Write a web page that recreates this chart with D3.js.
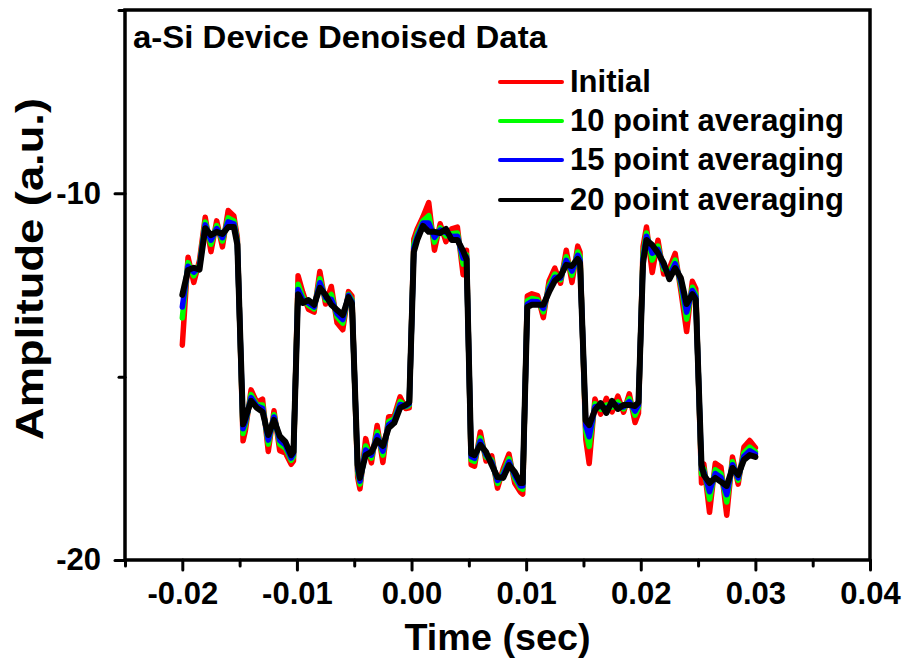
<!DOCTYPE html>
<html><head><meta charset="utf-8">
<script src="https://cdn.jsdelivr.net/npm/d3@7"></script>
<style>body{margin:0;background:#fff}svg{display:block}</style>
</head><body><svg id="c" width="908" height="667"></svg>
<script>
const time = [
-0.0200,-0.0195,-0.0190,-0.0185,-0.0180,-0.0175,-0.0170,-0.0165,-0.0160,-0.0155,
-0.0152,-0.0147,
-0.0145,-0.0140,-0.0135,-0.0130,-0.0125,-0.0120,-0.0115,-0.0110,-0.0105,
-0.0103,-0.0099,
-0.0095,-0.0090,-0.0085,-0.0080,-0.0075,-0.0070,-0.0065,-0.0060,-0.0055,
-0.0052,-0.0047,
-0.0045,-0.0040,-0.0035,-0.0030,-0.0025,-0.0020,-0.0015,-0.0010,-0.0005,
-0.0002,0.0002,
0.0005,0.0010,0.0015,0.0020,0.0025,0.0030,0.0035,0.0040,0.0045,
0.0048,0.0052,
0.0055,0.0060,0.0065,0.0070,0.0075,0.0080,0.0085,0.0090,0.0095,
0.0097,0.0101,
0.0105,0.0110,0.0115,0.0120,0.0125,0.0130,0.0135,0.0140,0.0145,
0.0147,0.0152,
0.0155,0.0160,0.0165,0.0170,0.0175,0.0180,0.0185,0.0190,0.0195,
0.0198,0.0202,
0.0205,0.0210,0.0215,0.0220,0.0225,0.0230,0.0235,0.0240,0.0245,
0.0248,0.0253,
0.0255,0.0260,0.0265,0.0270,0.0275,0.0280,0.0285,0.0290,0.0295,0.0300];

const initial = [
-14.14,-11.74,-12.43,-11.83,-10.65,-11.59,-10.75,-11.46,-10.47,-10.62,
-11.20,-16.75,
-16.48,-15.36,-15.70,-15.61,-17.04,-15.93,-17.02,-17.08,-17.39,
-17.30,-12.25,
-12.69,-13.16,-13.24,-12.13,-13.02,-12.54,-13.53,-13.72,-12.68,
-12.80,-17.75,
-18.06,-16.69,-17.35,-16.33,-17.34,-16.10,-16.06,-15.55,-15.87,
-15.85,-11.25,
-10.97,-10.64,-10.25,-11.55,-10.83,-11.32,-10.97,-10.92,-12.22,
-11.55,-17.40,
-17.44,-16.51,-17.30,-17.16,-18.04,-17.51,-17.11,-17.90,-18.15,
-18.20,-12.80,
-12.74,-12.79,-13.39,-12.39,-12.04,-12.45,-11.55,-12.43,-11.44,
-11.60,-16.70,
-17.37,-15.61,-16.02,-15.59,-15.96,-15.53,-15.97,-15.47,-16.25,
-16.00,-11.45,
-10.92,-12.16,-11.28,-12.20,-12.04,-11.64,-12.66,-13.77,-12.40,
-12.60,-17.90,
-17.38,-18.70,-17.36,-17.47,-18.78,-17.19,-17.93,-16.92,-16.74,-16.94];

const avg10 = [
-13.40,-11.89,-12.25,-11.94,-10.78,-11.39,-10.88,-11.30,-10.67,-10.75,
-11.30,-16.55,
-16.32,-15.49,-15.77,-15.77,-16.84,-16.04,-16.84,-16.95,-17.28,
-17.18,-12.48,
-12.82,-13.05,-13.15,-12.33,-12.91,-12.76,-13.37,-13.54,-12.75,
-12.90,-17.60,
-17.93,-16.89,-17.22,-16.51,-17.14,-16.23,-16.15,-15.68,-15.82,
-15.78,-11.40,
-11.10,-10.75,-10.61,-11.33,-10.94,-11.16,-11.10,-11.08,-11.93,
-11.68,-17.27,
-17.31,-16.67,-17.19,-17.27,-17.91,-17.62,-17.24,-17.77,-18.04,
-18.07,-12.93,
-12.87,-12.90,-13.23,-12.52,-12.20,-12.36,-11.73,-12.23,-11.60,
-11.73,-16.48,
-16.90,-15.74,-15.89,-15.77,-15.83,-15.69,-15.88,-15.60,-16.05,
-15.85,-11.65,
-11.08,-11.82,-11.44,-12.07,-12.17,-11.82,-12.50,-13.43,-12.56,
-12.75,-17.65,
-17.51,-18.34,-17.54,-17.65,-18.42,-17.32,-17.82,-17.08,-16.92,-17.05];

const avg15 = [
-13.10,-11.99,-12.15,-12.00,-10.86,-11.28,-10.96,-11.21,-10.78,-10.83,
-11.35,-16.42,
-16.23,-15.57,-15.80,-15.86,-16.73,-16.10,-16.74,-16.87,-17.22,
-17.10,-12.62,
-12.90,-12.99,-13.10,-12.44,-12.85,-12.89,-13.28,-13.44,-12.78,
-12.95,-17.50,
-17.85,-17.00,-17.14,-16.61,-17.03,-16.31,-16.20,-15.76,-15.80,
-15.74,-11.50,
-11.18,-10.81,-10.81,-11.20,-11.00,-11.07,-11.18,-11.17,-11.77,
-11.74,-17.18,
-17.23,-16.76,-17.13,-17.33,-17.83,-17.68,-17.32,-17.69,-17.98,
-17.98,-13.02,
-12.95,-12.96,-13.14,-12.60,-12.29,-12.31,-11.83,-12.12,-11.69,
-11.82,-16.33,
-16.64,-15.82,-15.81,-15.87,-15.75,-15.78,-15.83,-15.68,-15.94,
-15.77,-11.78,
-11.17,-11.63,-11.53,-11.99,-12.25,-11.92,-12.41,-13.24,-12.65,
-12.83,-17.52,
-17.59,-18.14,-17.64,-17.75,-18.22,-17.40,-17.76,-17.17,-17.02,-17.11];

const avg20 = [
-12.77,-12.09,-12.03,-12.08,-10.95,-11.14,-11.05,-11.11,-10.92,-10.92,
-11.40,-16.30,
-16.13,-15.66,-15.85,-15.96,-16.59,-16.18,-16.62,-16.78,-17.14,
-17.05,-12.75,
-12.99,-12.91,-13.04,-12.58,-12.77,-13.04,-13.18,-13.32,-12.83,
-13.00,-17.40,
-17.76,-17.14,-17.05,-16.73,-16.89,-16.40,-16.26,-15.85,-15.77,
-15.70,-11.60,
-11.27,-10.89,-11.05,-11.05,-11.08,-10.97,-11.27,-11.27,-11.57,
-11.80,-17.10,
-17.14,-16.86,-17.05,-17.41,-17.74,-17.76,-17.41,-17.60,-17.90,
-17.90,-13.10,
-13.04,-13.04,-13.04,-12.69,-12.39,-12.25,-11.95,-11.98,-11.79,
-11.90,-16.20,
-16.32,-15.91,-15.72,-15.99,-15.66,-15.88,-15.77,-15.77,-15.80,
-15.70,-11.90,
-11.27,-11.41,-11.63,-11.90,-12.34,-12.04,-12.31,-13.02,-12.75,
-12.90,-17.40,
-17.68,-17.90,-17.76,-17.87,-17.98,-17.49,-17.68,-17.27,-17.14,-17.19];

const seriesNames = ["Initial", "10 point averaging", "15 point averaging", "20 point averaging"];
const seriesColors = ["#ff0000", "#00ff00", "#0000ff", "#000000"];
const xMajorTicks = [-0.02, -0.01, 0.00, 0.01, 0.02, 0.03, 0.04];
const xTickLabels = ["-0.02", "-0.01", "0.00", "0.01", "0.02", "0.03", "0.04"];
const xMinorTicks = [-0.025, -0.015, -0.005, 0.005, 0.015, 0.025, 0.035];
const yMajorTicks = [-20, -10];
const yTickLabels = ["-20", "-10"];
const yMinorTicks = [-15, -5];
const titleText = "a-Si Device Denoised Data";
const xTitle = "Time (sec)";
const yTitle = "Amplitude (a.u.)";

const FONT = "'Liberation Sans', Arial, Helvetica, sans-serif";
const L = 125, R = 870, T = 10, B = 560;
const svg = d3.select("#c");
const x = d3.scaleLinear().domain([-0.025, 0.04]).range([L, R]);
const y = d3.scaleLinear().domain([-20, -5]).range([B, T]);

// series
const series = [initial, avg10, avg15, avg20];
const widths = [5.5, 5.5, 5.5, 6];
const line = d3.line().x((d, i) => x(time[i])).y(d => y(d));
const gLines = svg.append("g");
series.forEach((s, k) => {
  gLines.append("path").datum(s)
    .attr("d", line)
    .attr("fill", "none")
    .attr("stroke", seriesColors[k])
    .attr("stroke-width", widths[k])
    .attr("stroke-linejoin", "round")
    .attr("stroke-linecap", "round");
});

// axes
function styleAxis(g) {
  g.select(".domain").remove();
  g.selectAll(".tick line").attr("stroke", "#000").attr("stroke-width", 3).attr("stroke-linecap", "round");
  g.selectAll(".tick text").attr("font-family", FONT).attr("font-weight", "bold").attr("font-size", 31).attr("fill", "#000");
}
const xAxis = d3.axisBottom(x).tickValues(xMajorTicks).tickSize(10).tickPadding(12)
  .tickFormat((d, i) => xTickLabels[i]);
svg.append("g").attr("transform", `translate(0,${B})`).call(xAxis).call(styleAxis);
const xAxisMinor = d3.axisBottom(x).tickValues(xMinorTicks).tickSize(6).tickFormat("");
svg.append("g").attr("transform", `translate(0,${B})`).call(xAxisMinor).call(styleAxis);

const yAxis = d3.axisLeft(y).tickValues(yMajorTicks).tickSize(10).tickPadding(14)
  .tickFormat((d, i) => yTickLabels[i]);
svg.append("g").attr("transform", `translate(${L},0)`).call(yAxis).call(styleAxis);
const yAxisMinor = d3.axisLeft(y).tickValues(yMinorTicks).tickSize(6).tickFormat("");
svg.append("g").attr("transform", `translate(${L},0)`).call(yAxisMinor).call(styleAxis);

// frame
svg.append("rect").attr("x", L).attr("y", T).attr("width", R - L).attr("height", B - T)
  .attr("fill", "none").attr("stroke", "#000").attr("stroke-width", 3.5);

// title
svg.append("text").attr("x", 133).attr("y", 48).text(titleText)
  .attr("font-family", FONT).attr("font-weight", "bold").attr("font-size", 31)
  .attr("textLength", 414).attr("lengthAdjust", "spacingAndGlyphs");

// legend
const legY = [82, 121, 160, 200];
seriesNames.forEach((n, k) => {
  svg.append("line").attr("x1", 500).attr("x2", 562).attr("y1", legY[k]).attr("y2", legY[k])
    .attr("stroke", seriesColors[k]).attr("stroke-width", 4).attr("stroke-linecap", "round");
  svg.append("text").attr("x", 570).attr("y", legY[k] + 10).text(n)
    .attr("font-family", FONT).attr("font-weight", "bold").attr("font-size", 31);
});

// axis titles
svg.append("text").attr("x", (L + R) / 2).attr("y", 650).attr("text-anchor", "middle").text(xTitle)
  .attr("font-family", FONT).attr("font-weight", "bold").attr("font-size", 37)
  .attr("textLength", 186).attr("lengthAdjust", "spacingAndGlyphs");
svg.append("text").attr("transform", "translate(43,440) rotate(-90)").attr("text-anchor", "start").text(yTitle)
  .attr("font-family", FONT).attr("font-weight", "bold").attr("font-size", 39)
  .attr("textLength", 342).attr("lengthAdjust", "spacingAndGlyphs");
</script>
</body></html>
